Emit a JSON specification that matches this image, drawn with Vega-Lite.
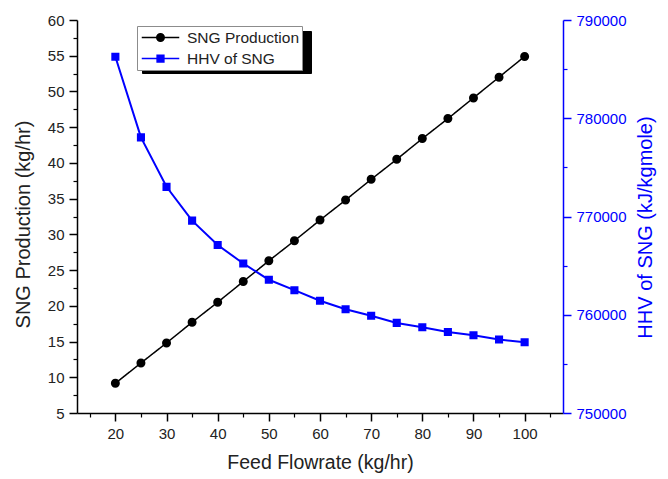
{
  "$schema": "https://vega.github.io/schema/vega-lite/v6.json",
  "width": 486,
  "height": 393,
  "autosize": "none",
  "padding": {"left": 77, "top": 20, "right": 105, "bottom": 66},
  "background": "#ffffff",
  "config": {
    "view": {"stroke": null},
    "font": "Liberation Sans",
    "axis": {
      "labelFont": "Liberation Sans",
      "titleFont": "Liberation Sans",
      "labelFontSize": 15,
      "titleFontSize": 20,
      "titleFontWeight": "normal",
      "grid": false,
      "labelFlush": false,
      "labelOverlap": false
    }
  },
  "data": {
    "values": [
      {"feed": 20, "sng": 9.16, "hhv": 786260},
      {"feed": 25, "sng": 12.0, "hhv": 778050},
      {"feed": 30, "sng": 14.8, "hhv": 773020},
      {"feed": 35, "sng": 17.7, "hhv": 769580},
      {"feed": 40, "sng": 20.5, "hhv": 767100},
      {"feed": 45, "sng": 23.4, "hhv": 765220},
      {"feed": 50, "sng": 26.3, "hhv": 763560},
      {"feed": 55, "sng": 29.1, "hhv": 762500},
      {"feed": 60, "sng": 32.0, "hhv": 761430},
      {"feed": 65, "sng": 34.8, "hhv": 760560},
      {"feed": 70, "sng": 37.7, "hhv": 759900},
      {"feed": 75, "sng": 40.5, "hhv": 759170},
      {"feed": 80, "sng": 43.4, "hhv": 758730},
      {"feed": 85, "sng": 46.2, "hhv": 758250},
      {"feed": 90, "sng": 49.1, "hhv": 757910},
      {"feed": 95, "sng": 52.0, "hhv": 757480},
      {"feed": 100, "sng": 54.9, "hhv": 757200}
    ]
  },
  "layer": [
    {
      "layer": [
        {
          "mark": {"type": "line", "color": "#000000", "strokeWidth": 1.5},
          "encoding": {
            "x": {
              "field": "feed", "type": "quantitative",
              "scale": {"domain": [12.5, 107.5], "nice": false, "zero": false},
              "axis": {
                "orient": "bottom",
                "values": [20, 30, 40, 50, 60, 70, 80, 90, 100],
                "title": "Feed Flowrate (kg/hr)",
                "domainColor": "#000000", "domainWidth": 1.5,
                "tickColor": "#000000", "tickWidth": 1.5, "tickSize": 8,
                "labelColor": "#222222", "labelPadding": 5,
                "titleColor": "#222222", "titlePadding": 12, "titleFontSize": 19.5
              }
            },
            "y": {
              "field": "sng", "type": "quantitative",
              "scale": {"domain": [5, 60], "nice": false, "zero": false},
              "axis": {
                "orient": "left",
                "values": [5, 10, 15, 20, 25, 30, 35, 40, 45, 50, 55, 60],
                "title": "SNG Production (kg/hr)",
                "domainColor": "#000000", "domainWidth": 1.5,
                "tickColor": "#000000", "tickWidth": 1.5, "tickSize": 8,
                "labelColor": "#222222", "labelPadding": 5,
                "titleColor": "#222222", "titlePadding": 14, "titleY": 204
              }
            },
            "strokeDash": {
              "datum": "SNG Production",
              "scale": {"domain": ["HHV of SNG", "SNG Production"], "range": [[1, 0], [1, 0]]},
              "legend": {
                "orient": "none", "legendX": 65, "legendY": 11, "title": null,
                "padding": 3, "rowPadding": 4,
                "symbolType": "M-2.5,-0.6H18.6V0.6H-2.5Z",
                "symbolSize": 225, "symbolStrokeWidth": 1.5,
                "symbolStrokeColor": "#000000", "symbolFillColor": "#000000",
                "symbolOffset": 12, "labelOffset": 18,
                "labelExpr": "''",
                "labelFont": "Liberation Sans", "labelFontSize": 1, "labelColor": "#000000",
                "fillColor": "#000000", "strokeColor": "#000000"
              }
            }
          }
        },
        {
          "mark": {"type": "point", "filled": true, "size": 324, "opacity": 1},
          "encoding": {
            "x": {
              "field": "feed", "type": "quantitative",
              "scale": {"domain": [12.5, 107.5], "nice": false, "zero": false},
              "axis": {
                "orient": "bottom",
                "values": [20, 30, 40, 50, 60, 70, 80, 90, 100],
                "title": "Feed Flowrate (kg/hr)",
                "domainColor": "#000000", "domainWidth": 1.5,
                "tickColor": "#000000", "tickWidth": 1.5, "tickSize": 8,
                "labelColor": "#222222", "labelPadding": 5,
                "titleColor": "#222222", "titlePadding": 12, "titleFontSize": 19.5
              }
            },
            "y": {
              "field": "sng", "type": "quantitative",
              "scale": {"domain": [5, 60], "nice": false, "zero": false},
              "axis": {
                "orient": "left",
                "values": [7.5, 12.5, 17.5, 22.5, 27.5, 32.5, 37.5, 42.5, 47.5, 52.5, 57.5],
                "title": null, "labels": false, "domain": false,
                "tickColor": "#000000", "tickWidth": 1.2, "tickSize": 4
              }
            },
            "color": {
              "datum": "SNG Production",
              "scale": {"domain": ["SNG Production", "HHV of SNG"], "range": ["#000000", "#0000ff"]},
              "legend": {
                "orient": "none", "legendX": 60, "legendY": 6, "title": null,
                "padding": 3, "rowPadding": 4,
                "symbolSize": 225, "symbolStrokeWidth": 1.5,
                "symbolOffset": 12, "labelOffset": 18,
                "labelFont": "Liberation Sans", "labelFontSize": 15.5, "labelColor": "#222222",
                "fillColor": "#ffffff", "strokeColor": "#8c8c8c"
              }
            },
            "shape": {
              "datum": "SNG Production",
              "scale": {
                "domain": ["SNG Production", "HHV of SNG"],
                "range": [
                  "M-2.5,0H2.5M-0.5,0A0.5,0.5,0,1,1,0.5,0A0.5,0.5,0,1,1,-0.5,0Z",
                  "M-2.5,0H2.5M-0.45,-0.45H0.45V0.45H-0.45Z"
                ]
              },
              "legend": {
                "orient": "none", "legendX": 60, "legendY": 6, "title": null,
                "padding": 3, "rowPadding": 4,
                "symbolSize": 225, "symbolStrokeWidth": 1.5,
                "symbolOffset": 12, "labelOffset": 18,
                "labelFont": "Liberation Sans", "labelFontSize": 15.5, "labelColor": "#222222",
                "fillColor": "#ffffff", "strokeColor": "#8c8c8c"
              }
            }
          }
        }
      ],
      "resolve": {"axis": {"y": "independent"}}
    },
    {
      "layer": [
        {
          "mark": {"type": "line", "strokeWidth": 2},
          "encoding": {
            "x": {
              "field": "feed", "type": "quantitative",
              "scale": {"domain": [12.5, 107.5], "nice": false, "zero": false},
              "axis": {
                "orient": "bottom",
                "values": [15, 25, 35, 45, 55, 65, 75, 85, 95, 105],
                "title": null, "labels": false, "domain": false,
                "tickColor": "#000000", "tickWidth": 1.2, "tickSize": 4
              }
            },
            "y": {
              "field": "hhv", "type": "quantitative",
              "scale": {"domain": [750000, 790000], "nice": false, "zero": false},
              "axis": {
                "orient": "right",
                "values": [750000, 760000, 770000, 780000, 790000],
                "format": "d",
                "title": "HHV of SNG (kJ/kgmole)",
                "domainColor": "#0000ff", "domainWidth": 1.5,
                "tickColor": "#0000ff", "tickWidth": 1.5, "tickSize": 8,
                "labelColor": "#0000ff", "labelPadding": 5,
                "titleColor": "#0000ff", "titlePadding": 9,
                "titleAngle": 270, "titleBaseline": "top", "titleY": 207
              }
            },
            "color": {
              "datum": "HHV of SNG",
              "scale": {"domain": ["SNG Production", "HHV of SNG"], "range": ["#000000", "#0000ff"]}
            }
          }
        },
        {
          "mark": {"type": "point", "filled": true, "size": 324, "opacity": 1},
          "encoding": {
            "x": {
              "field": "feed", "type": "quantitative",
              "scale": {"domain": [12.5, 107.5], "nice": false, "zero": false},
              "axis": {
                "orient": "bottom",
                "values": [15, 25, 35, 45, 55, 65, 75, 85, 95, 105],
                "title": null, "labels": false, "domain": false,
                "tickColor": "#000000", "tickWidth": 1.2, "tickSize": 4
              }
            },
            "y": {
              "field": "hhv", "type": "quantitative",
              "scale": {"domain": [750000, 790000], "nice": false, "zero": false},
              "axis": {
                "orient": "right",
                "values": [755000, 765000, 775000, 785000],
                "title": null, "labels": false, "domain": false,
                "tickColor": "#0000ff", "tickWidth": 1.2, "tickSize": 4
              }
            },
            "color": {
              "datum": "HHV of SNG",
              "scale": {"domain": ["SNG Production", "HHV of SNG"], "range": ["#000000", "#0000ff"]}
            },
            "shape": {
              "datum": "HHV of SNG",
              "scale": {
                "domain": ["SNG Production", "HHV of SNG"],
                "range": [
                  "M-2.5,0H2.5M-0.5,0A0.5,0.5,0,1,1,0.5,0A0.5,0.5,0,1,1,-0.5,0Z",
                  "M-2.5,0H2.5M-0.45,-0.45H0.45V0.45H-0.45Z"
                ]
              }
            }
          }
        }
      ],
      "resolve": {"axis": {"y": "independent"}}
    }
  ],
  "resolve": {
    "scale": {"y": "independent"},
    "axis": {"x": "independent", "y": "independent"}
  }
}
